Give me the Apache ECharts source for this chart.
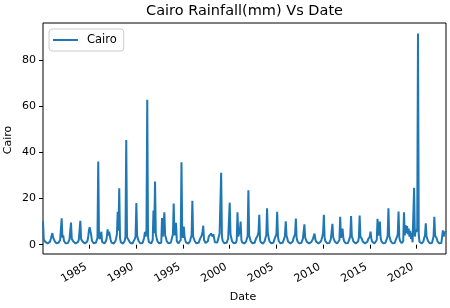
<!DOCTYPE html>
<html><head><meta charset="utf-8">
<script src="https://cdn.jsdelivr.net/npm/echarts@6/dist/echarts.min.js"></script>
<style>html,body{margin:0;padding:0;background:#fff}#c{width:450px;height:308px}</style>
</head><body><div id="c"></div>
<script>
const seriesName = 'Cairo';
const chartTitle = 'Cairo Rainfall(mm) Vs Date';
const xName = 'Date';
const yName = 'Cairo';
const startYear = 1980; // monthly values, Jan..Dec per row
const rain1980s = [
  10.2, 2.2, 1.6, 1.2, 0.8, 0.6, 0.5, 0.5, 0.7, 1.3, 2.4, 3.0,
  5.0, 3.2, 3.6, 1.5, 0.9, 0.6, 0.5, 0.5, 0.8, 1.2, 2.0, 2.6,
  11.4, 3.0, 4.0, 1.6, 0.8, 0.6, 0.5, 0.5, 0.7, 1.4, 2.2, 2.8,
  9.6, 2.5, 3.2, 1.4, 0.9, 0.6, 0.5, 0.5, 0.7, 1.2, 2.1, 2.9,
  10.3, 2.4, 1.8, 1.3, 0.8, 0.6, 0.5, 0.5, 0.8, 1.5, 3.0, 6.2,
  7.6, 7.9, 4.0, 1.6, 0.9, 0.6, 0.5, 0.5, 0.8, 1.4, 3.0, 36.0,
  3.5, 2.4, 4.0, 5.6, 1.2, 0.6, 0.5, 0.5, 0.8, 1.6, 3.2, 6.6,
  4.0, 5.6, 6.4, 2.0, 0.9, 0.6, 0.5, 0.5, 0.8, 1.5, 2.8, 4.5,
  14.2, 6.0, 24.4, 3.0, 1.0, 0.6, 0.5, 0.5, 0.8, 1.6, 3.5, 45.4,
  3.2, 2.5, 2.0, 1.4, 0.8, 0.6, 0.5, 0.5, 0.7, 1.3, 2.5, 3.5
];
const rain1990s = [
  18.0, 4.0, 2.6, 1.5, 0.9, 0.6, 0.5, 0.5, 0.7, 1.4, 3.0, 5.5,
  3.5, 6.5, 62.8, 3.5, 1.2, 0.6, 0.5, 0.5, 0.8, 2.0, 14.8, 5.0,
  27.4, 4.5, 3.0, 1.6, 0.9, 0.6, 0.5, 0.5, 0.8, 11.5, 3.5, 4.0,
  14.0, 4.0, 3.0, 1.5, 0.9, 0.6, 0.5, 0.5, 0.8, 1.8, 3.2, 4.5,
  17.8, 4.0, 3.5, 9.5, 1.5, 0.7, 0.5, 0.5, 0.8, 2.0, 35.7, 4.0,
  3.0, 7.8, 3.2, 1.8, 0.9, 0.6, 0.5, 0.5, 0.8, 1.5, 3.0, 4.0,
  19.0, 3.5, 2.8, 1.6, 0.9, 0.6, 0.5, 0.5, 0.8, 1.5, 2.6, 3.2,
  4.0, 5.5, 8.2, 2.0, 1.2, 0.7, 0.6, 0.8, 1.5, 3.5, 4.2, 3.8,
  4.8, 4.0, 3.5, 4.5, 3.8, 1.0, 0.6, 0.6, 0.9, 1.6, 3.5, 4.8,
  5.5, 31.2, 3.5, 1.6, 0.9, 0.6, 0.5, 0.5, 0.8, 1.4, 2.6, 3.0
];
const rain2000s = [
  18.2, 4.5, 3.0, 1.5, 0.9, 0.6, 0.5, 0.5, 0.8, 2.0, 14.0, 3.5,
  4.0, 6.0, 10.0, 2.0, 1.0, 0.6, 0.5, 0.5, 0.8, 1.4, 2.6, 3.5,
  23.6, 4.0, 2.8, 1.5, 0.9, 0.6, 0.5, 0.5, 0.8, 1.5, 2.8, 3.5,
  4.0, 5.5, 12.9, 2.0, 1.0, 0.6, 0.5, 0.5, 0.8, 1.6, 3.0, 4.0,
  15.8, 5.0, 3.2, 1.6, 0.9, 0.6, 0.5, 0.5, 0.8, 1.5, 2.8, 3.5,
  4.5, 14.2, 3.5, 1.6, 0.9, 0.6, 0.5, 0.5, 0.8, 1.5, 2.6, 3.8,
  10.1, 4.0, 2.8, 1.4, 0.8, 0.6, 0.5, 0.5, 0.7, 1.4, 2.8, 3.5,
  4.5, 11.3, 3.0, 1.5, 0.8, 0.6, 0.5, 0.5, 0.7, 1.3, 2.5, 3.2,
  8.8, 3.0, 2.2, 1.3, 0.8, 0.6, 0.5, 0.5, 0.7, 1.2, 2.0, 2.5,
  3.0, 4.8, 2.4, 1.4, 0.8, 0.6, 0.5, 0.5, 0.7, 1.3, 2.2, 3.5
];
const rain2010s = [
  5.0, 12.9, 3.0, 1.5, 0.9, 0.6, 0.5, 0.5, 0.7, 1.3, 2.4, 3.2,
  9.0, 3.2, 2.4, 1.4, 0.8, 0.6, 0.5, 0.5, 0.7, 2.0, 12.1, 3.0,
  3.5, 7.0, 3.0, 1.5, 0.8, 0.6, 0.5, 0.5, 0.7, 1.4, 2.6, 4.0,
  12.4, 3.5, 2.6, 1.4, 0.8, 0.6, 0.5, 0.5, 0.7, 1.4, 3.0, 12.6,
  3.5, 3.0, 2.4, 1.4, 0.8, 0.6, 0.5, 0.5, 0.7, 1.3, 2.4, 3.2,
  3.4, 5.6, 2.8, 1.4, 0.8, 0.6, 0.5, 0.5, 0.7, 2.0, 11.2, 4.0,
  5.0, 10.0, 3.0, 1.5, 0.8, 0.6, 0.5, 0.5, 0.7, 1.4, 2.6, 3.8,
  15.8, 4.0, 2.8, 1.5, 0.8, 0.6, 0.5, 0.5, 0.7, 1.4, 2.6, 3.5,
  4.5, 14.3, 3.0, 1.6, 0.9, 0.6, 0.8, 1.5, 14.0, 4.0, 8.5, 5.0,
  8.0, 4.5, 7.0, 3.5, 6.0, 2.5, 5.0, 1.0, 1.5, 24.7, 3.5, 6.5
];
const rain2020s = [
  5.5, 7.0, 91.5, 4.0, 1.2, 0.7, 0.5, 0.5, 0.8, 1.5, 3.0, 4.0,
  9.3, 3.5, 2.8, 1.5, 0.8, 0.6, 0.5, 0.5, 0.7, 1.5, 3.5, 12.1,
  4.0, 3.5, 2.8, 1.5, 0.8, 0.6, 0.5, 0.5, 0.7, 1.5, 6.2, 3.5,
  5.0, 5.5, 6.0
];
const xTickYears = [1985, 1990, 1995, 2000, 2005, 2010, 2015, 2020];
const yTicks = [0, 20, 40, 60, 80];

const values = [].concat(rain1980s, rain1990s, rain2000s, rain2010s, rain2020s);
// x as decimal year of each month's start
const data = values.map((v, i) => [startYear + Math.floor(i / 12) + (i % 12) / 12, v]);

const FONT = 'DejaVu Sans';
const chart = echarts.init(document.getElementById('c'), null, {renderer: 'canvas'});
chart.setOption({
  animation: false,
  backgroundColor: '#fff',
  grid: {left: 43, right: 4, top: 23, bottom: 54, show: true, borderColor: '#000', borderWidth: 1, backgroundColor: 'transparent'},
  graphic: [
    {type: 'text', x: 244.5, y: 11, style: {text: chartTitle, fontFamily: FONT, fontSize: 14.5, fill: '#000', textAlign: 'center', textVerticalAlign: 'middle'}},
    {type: 'text', x: 243, y: 297.5, style: {text: xName, fontFamily: FONT, fontSize: 11, fill: '#000', textAlign: 'center', textVerticalAlign: 'middle'}},
    {type: 'text', x: 8.5, y: 140, rotation: Math.PI / 2, style: {text: yName, fontFamily: FONT, fontSize: 11, fill: '#000', textAlign: 'center', textVerticalAlign: 'middle'}}
  ],
  legend: {
    left: 49, top: 29, orient: 'vertical',
    data: [seriesName],
    icon: 'rect', itemWidth: 25, itemHeight: 2,
    padding: [5, 7, 5, 4],
    borderColor: '#cccccc', borderWidth: 1, borderRadius: 3,
    backgroundColor: 'rgba(255,255,255,0.8)',
    textStyle: {fontFamily: FONT, fontSize: 11.5, color: '#000', padding: [0, 0, 0, 4], lineHeight: 12}
  },
  xAxis: {
    type: 'value',
    min: data[0][0], max: data[data.length - 1][0],
    axisLine: {show: false},
    splitLine: {show: false},
    axisTick: {show: true, customValues: xTickYears, length: 4, lineStyle: {color: '#000', width: 1}},
    axisLabel: {
      customValues: xTickYears, rotate: 30, margin: 10, padding: [0, 4, 0, 0],
      fontFamily: FONT, fontSize: 11, color: '#000',
      formatter: v => String(Math.round(v))
    }
  },
  yAxis: {
    type: 'value', min: -4.05, max: 96.05,
    axisLine: {show: false},
    splitLine: {show: false},
    axisTick: {show: true, customValues: yTicks, length: 4, lineStyle: {color: '#000', width: 1}},
    axisLabel: {customValues: yTicks, margin: 7, fontFamily: FONT, fontSize: 11, color: '#000'}
  },
  series: [{
    name: seriesName, type: 'line', data: data,
    showSymbol: false, symbol: 'none', sampling: 'none',
    lineStyle: {color: '#1f77b4', width: 2},
    itemStyle: {color: '#1f77b4'}
  }]
});
</script></body></html>
